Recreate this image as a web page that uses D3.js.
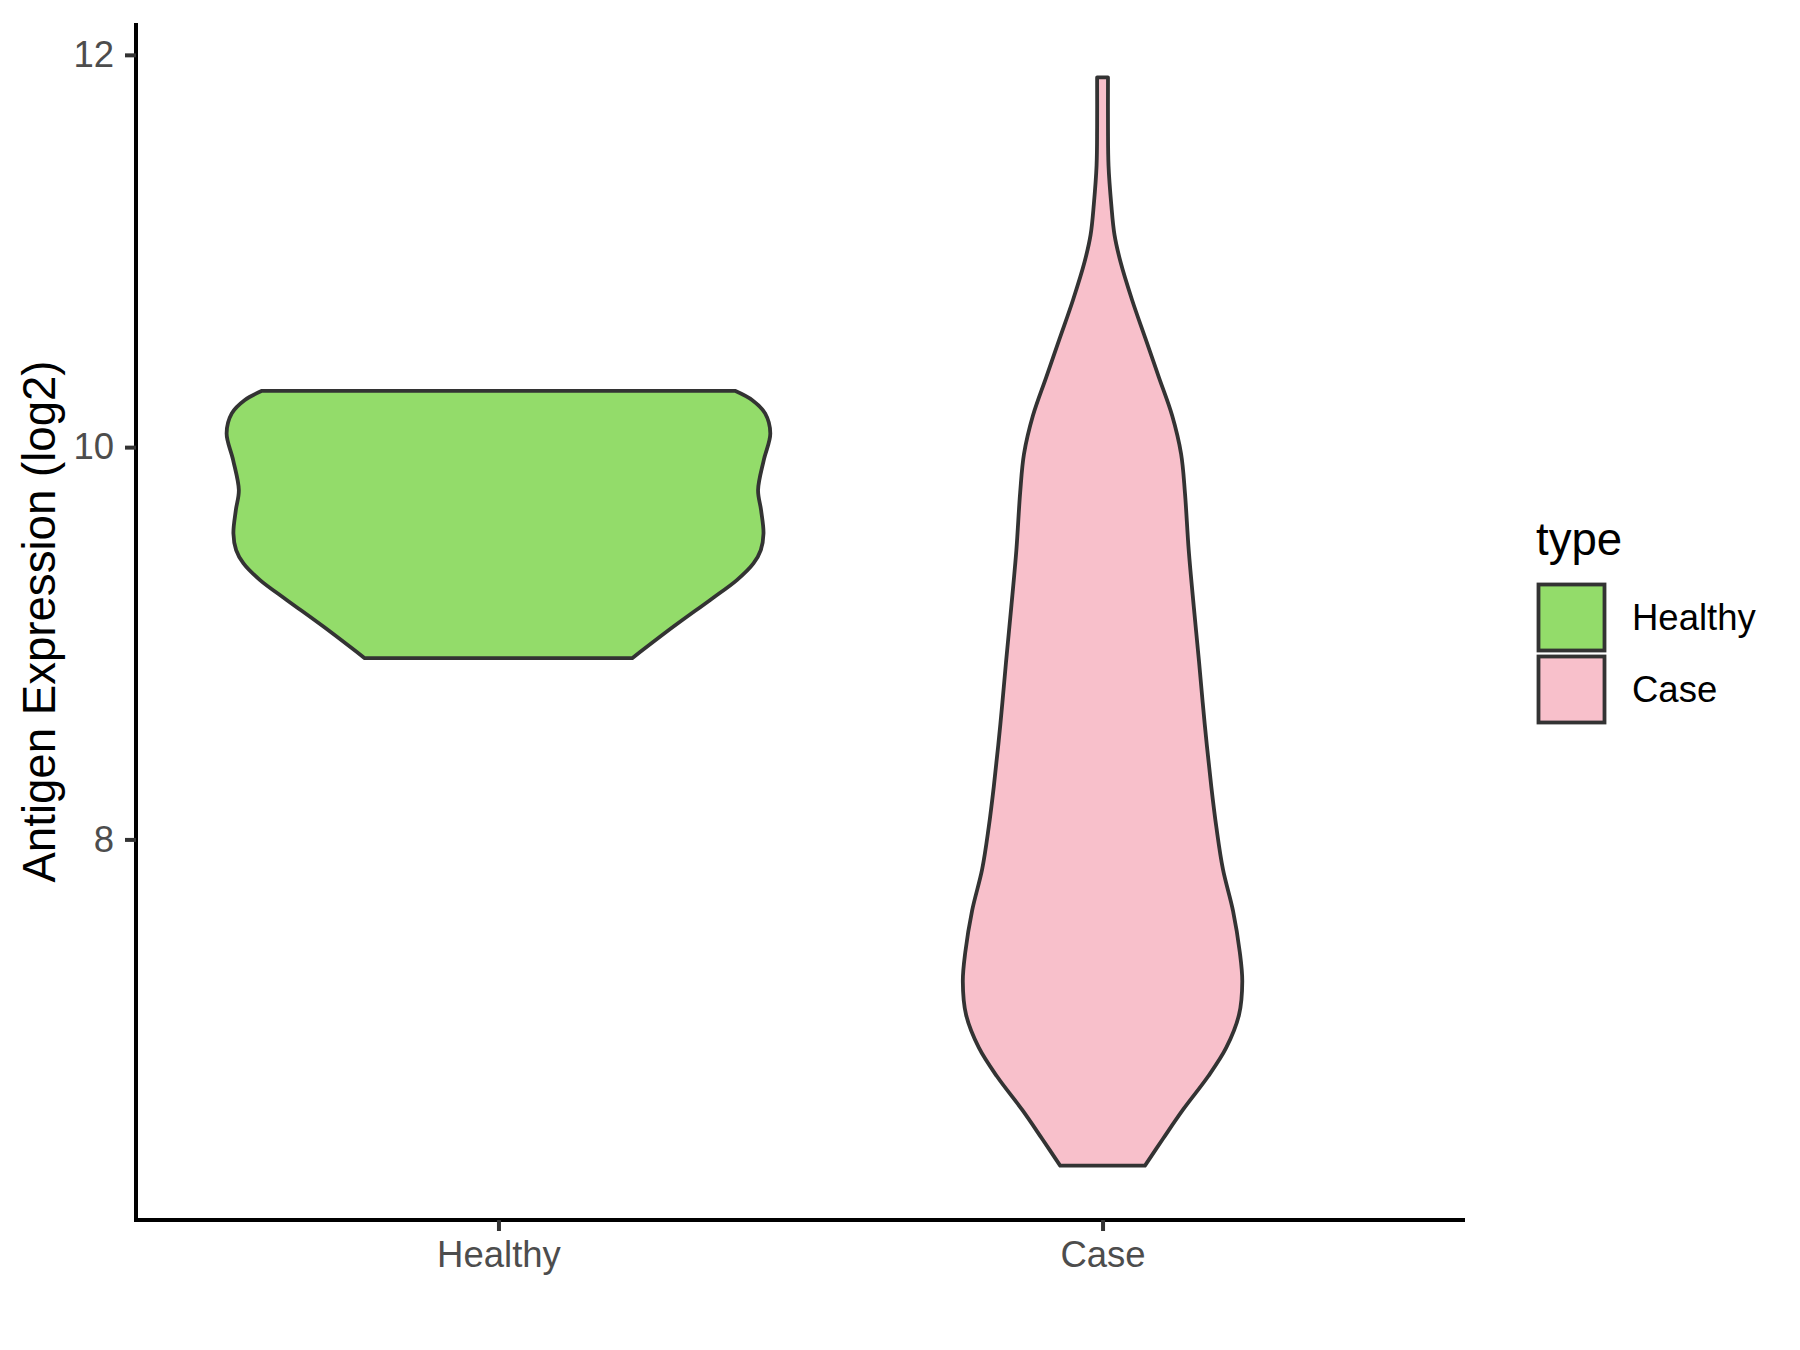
<!DOCTYPE html>
<html>
<head>
<meta charset="utf-8">
<script src="https://cdn.jsdelivr.net/npm/d3@7"></script>
<style>
  html, body { margin: 0; padding: 0; background: #ffffff; }
  svg { display: block; font-family: "Liberation Sans", Arial, sans-serif; }
</style>
</head>
<body>
<svg id="chart" width="1800" height="1350"></svg>
<script>
// ---- data ----
const categories = ["Healthy", "Case"];
const fillColors = ["#93DC6A", "#F8C0CB"];
const yTicks = [8, 10, 12];
const yTitle = "Antigen Expression (log2)";
const legendTitle = "type";

// Healthy violin: expression values and relative density (half-width)
const healthyValues  = [10.287, 10.239, 10.172, 10.070, 9.934, 9.781, 9.679, 9.560, 9.475, 9.407, 9.322, 9.221, 9.085, 8.924];
const healthyDensity = [0.870, 0.934, 0.981, 1.000, 0.976, 0.955, 0.966, 0.975, 0.965, 0.938, 0.877, 0.779, 0.644, 0.492];

// Case violin
const caseValues  = [11.885, 11.631, 11.435, 11.239, 11.082, 10.945, 10.749, 10.553, 10.357, 10.161, 9.965, 9.769, 9.475, 9.181, 8.905, 8.586, 8.270, 8.059, 7.847, 7.636, 7.424, 7.276, 7.106, 6.938, 6.791, 6.622, 6.475, 6.337];
const caseDensity = [0.020, 0.020, 0.022, 0.032, 0.044, 0.066, 0.109, 0.158, 0.207, 0.256, 0.289, 0.303, 0.317, 0.336, 0.355, 0.376, 0.400, 0.419, 0.443, 0.480, 0.505, 0.514, 0.502, 0.455, 0.388, 0.296, 0.223, 0.156];

const violins = [
  { cat: "Healthy", values: healthyValues, density: healthyDensity },
  { cat: "Case",    values: caseValues,    density: caseDensity }
];

// ---- layout ----
const svg = d3.select("#chart");
const panel = { left: 136, right: 1465, top: 23, bottom: 1220 };

const allVals = healthyValues.concat(caseValues);
const [vmin, vmax] = d3.extent(allVals);
const pad = (vmax - vmin) * 0.05;

const x = d3.scalePoint().domain(categories).range([panel.left, panel.right]).padding(0.6);
const y = d3.scaleLinear().domain([vmin - pad, vmax + pad]).range([panel.bottom, panel.top]);
const color = d3.scaleOrdinal().domain(categories).range(fillColors);

const maxD = d3.max(healthyDensity.concat(caseDensity));
const w = d3.scaleLinear().domain([0, maxD]).range([0, 0.45 * x.step()]);

// ---- violins ----
violins.forEach(v => {
  const pts = v.values.map((val, i) => ({ val, d: v.density[i] }));
  const cx = x(v.cat);
  const area = d3.area()
    .y(p => y(p.val))
    .x0(p => cx - w(p.d))
    .x1(p => cx + w(p.d))
    .curve(d3.curveCatmullRom.alpha(0.5));
  svg.append("path")
    .attr("d", area(pts))
    .attr("fill", color(v.cat))
    .attr("stroke", "#333333")
    .attr("stroke-width", 3.8)
    .attr("stroke-linejoin", "round");
});

// ---- axes ----
const yAxis = d3.axisLeft(y).tickValues(yTicks).tickFormat(d3.format("d")).tickSizeOuter(0).tickSize(11).tickPadding(11);
const gy = svg.append("g").attr("transform", `translate(${panel.left},0)`).call(yAxis);
const xAxis = d3.axisBottom(x).tickSizeOuter(0).tickSize(11).tickPadding(10);
const gx = svg.append("g").attr("transform", `translate(0,${panel.bottom})`).call(xAxis);

[gy, gx].forEach(g => {
  g.select(".domain").attr("stroke", "#000000").attr("stroke-width", 4);
  g.selectAll(".tick line").attr("stroke", "#333333").attr("stroke-width", 4);
  g.selectAll(".tick text").attr("fill", "#4D4D4D").attr("font-size", 36.5)
    .attr("font-family", "'Liberation Sans', Arial, sans-serif");
});
gx.selectAll(".tick text").attr("dy", "0.71em");
gy.select(".domain").attr("d", `M0,${panel.bottom + 2}V${panel.top}`);
gx.select(".domain").attr("d", `M${panel.left - 2},0H${panel.right}`);

// ---- y title ----
svg.append("text")
  .attr("transform", `translate(55,${(panel.top + panel.bottom) / 2}) rotate(-90)`)
  .attr("text-anchor", "middle")
  .attr("font-size", 45.6)
  .attr("fill", "#000000")
  .text(yTitle);

// ---- legend ----
const lg = svg.append("g");
lg.append("text").attr("x", 1536).attr("y", 555).attr("font-size", 45.6).attr("fill", "#000").text(legendTitle);
categories.forEach((c, i) => {
  const cy = 617.5 + i * 72;
  lg.append("rect")
    .attr("x", 1538.5).attr("y", cy - 33).attr("width", 66).attr("height", 66)
    .attr("fill", color(c)).attr("stroke", "#333333").attr("stroke-width", 3.8);
  lg.append("text").attr("x", 1632).attr("y", cy + 12.8).attr("font-size", 36.5).attr("fill", "#000").text(c);
});
</script>
</body>
</html>
